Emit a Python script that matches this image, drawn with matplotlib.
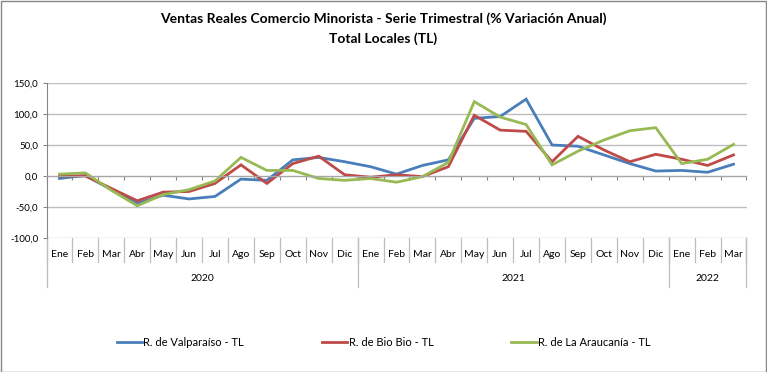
import matplotlib
matplotlib.use("Agg")
import matplotlib.pyplot as plt
from matplotlib.transforms import blended_transform_factory
from matplotlib.patches import Rectangle
from matplotlib.ticker import FuncFormatter

plt.rcParams["font.family"] = ["Lato", "DejaVu Sans"]

MONTHS = ["Ene", "Feb", "Mar", "Abr", "May", "Jun", "Jul", "Ago", "Sep", "Oct", "Nov", "Dic",
          "Ene", "Feb", "Mar", "Abr", "May", "Jun", "Jul", "Ago", "Sep", "Oct", "Nov", "Dic",
          "Ene", "Feb", "Mar"]
YEARS = ["2020", "2021", "2022"]
YEAR_COUNTS = [12, 12, 3]

valparaiso = [-4, 1, -22, -44, -31, -37, -33, -5, -7, 26, 30, 23, 15, 3, 17, 26,
              93, 96, 124, 50, 48, 34, 20, 8, 9, 6, 19]
biobio = [0, 0, -20, -40, -26, -25, -12, 18, -12, 20, 32, 2, -2, 2, -1, 15,
          98, 74, 72, 23, 64, 42, 23, 35, 27, 17, 34]
araucania = [3, 5, -23, -48, -30, -22, -8, 30, 9, 9, -4, -7, -4, -10, -1, 22,
             120, 95, 83, 18, 40, 58, 73, 78, 20, 27, 51]

SERIES = [
    ("R. de Valparaíso - TL", valparaiso, "#4A7EBB"),
    ("R. de Bio Bio - TL", biobio, "#BE4B48"),
    ("R. de La Araucanía - TL", araucania, "#98B954"),
]

W, H = 767, 372
fig = plt.figure(figsize=(W / 100, H / 100), dpi=100)
ax = fig.add_axes([46.5 / W, 1 - 238 / H, 700 / W, 155 / H])

x = list(range(len(MONTHS)))
for name, vals, color in SERIES:
    ax.plot(x, vals, color=color, lw=2.0, label=name, solid_joinstyle="miter")

ax.set_xlim(-0.5, len(MONTHS) - 0.5)
ax.set_ylim(-100, 150)
ax.set_yticks([-100, -50, 0, 50, 100, 150])
ax.yaxis.set_major_formatter(FuncFormatter(lambda v, p: f"{v:.1f}".replace(".", ",")))
ax.tick_params(axis="y", labelsize=7, length=3, color="#868686", pad=3, labelcolor="#000000")
ax.yaxis.grid(True, color="#BEBEBE", lw=1.0)
ax.set_axisbelow(True)

for s in ["top", "right"]:
    ax.spines[s].set_visible(False)
ax.spines["left"].set_color("#868686")
ax.spines["bottom"].set_position(("data", 0))
ax.spines["bottom"].set_color("#A6A6A6")
ax.set_xticks([i - 0.5 for i in range(len(MONTHS) + 1)])
ax.set_xticklabels([])
ax.tick_params(axis="x", length=3, color="#868686", direction="out")

# multi-level category axis under the plot
tr = blended_transform_factory(ax.transData, ax.transAxes)
for i in range(len(MONTHS) + 1):
    ax.plot([i - 0.5, i - 0.5], [0, -24 / 155], transform=tr, color="#BEBEBE",
            lw=0.9, clip_on=False)
for i, m in enumerate(MONTHS):
    ax.text(i, -16.5 / 155, m, transform=tr, ha="center", va="center", fontsize=7.5)
start = 0
for yr, n in zip(YEARS, YEAR_COUNTS):
    ax.plot([start - 0.5, start - 0.5], [0, -49 / 155], transform=tr, color="#BEBEBE",
            lw=0.9, clip_on=False)
    ax.text(start + n / 2 - 0.5, -40.5 / 155, yr, transform=tr, ha="center",
            va="center", fontsize=7.5)
    start += n
ax.plot([start - 0.5, start - 0.5], [0, -49 / 155], transform=tr, color="#BEBEBE",
        lw=0.9, clip_on=False)

fig.text(0.5, 1 - 19 / H, "Ventas Reales Comercio Minorista - Serie Trimestral (% Variación Anual)",
         ha="center", va="center", fontsize=10, fontweight="bold")
fig.text(0.5, 1 - 39 / H, "Total Locales (TL)", ha="center", va="center",
         fontsize=10, fontweight="bold")

fig.legend(loc="center", bbox_to_anchor=(0.5, 1 - 342 / H), ncol=3, frameon=False,
           fontsize=8, handlelength=2.3, handletextpad=0.1, columnspacing=7.0)

fig.patches.append(Rectangle((0.5 / W, 0.5 / H), (W - 1.5) / W, (H - 1.5) / H,
                             transform=fig.transFigure, fill=False,
                             edgecolor="#868686", lw=1))

fig.savefig("out.png", dpi=100)
